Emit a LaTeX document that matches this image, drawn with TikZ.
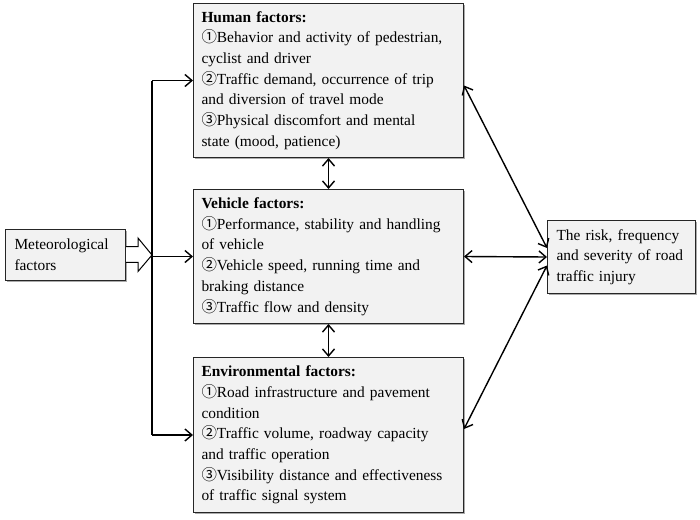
\documentclass[tikz,border=0pt]{standalone}
\usepackage{fontspec}
\setmainfont{Liberation Serif}
\newfontfamily\cjkcirc{Noto Sans CJK SC}
\usetikzlibrary{arrows.meta,shadows}
\newcommand\cnum[1]{\makebox[1em][l]{\cjkcirc #1}}
\definecolor{boxfill}{HTML}{F2F2F2}
\tikzset{
  fbox/.style={draw=black!85, line width=1pt, fill=boxfill, rectangle,
    drop shadow={shadow xshift=1.6pt, shadow yshift=-1.6pt, fill=black!55, opacity=0.6},
    align=left, inner xsep=9pt, inner ysep=0pt,
    font=\fontsize{15.4}{20.7}\selectfont},
  conn/.style={line width=1.4pt, draw=black},
  arr/.style={conn, -{Straight Barb[length=7pt,width=12pt,line width=1.4pt]}},
  darr/.style={conn, {Straight Barb[length=7pt,width=12pt,line width=1.4pt]}-{Straight Barb[length=7pt,width=12pt,line width=1.4pt]}}
}
\begin{document}
\begin{tikzpicture}[x=1pt,y=-1pt]
\useasboundingbox (0,0) rectangle (700,519);

\node[fbox, inner xsep=8pt, minimum width=270pt, minimum height=154pt, text width=254pt, anchor=north west] (human) at (193,3)
 {\textbf{Human factors:}\\
  \cnum{①}Behavior and activity of pedestrian,\\
  cyclist and driver\\
  \cnum{②}Traffic demand, occurrence of trip\\
  and diversion of travel mode\\
  \cnum{③}Physical discomfort and mental\\
  state (mood, patience)};

\node[fbox, inner xsep=8pt, minimum width=270pt, minimum height=134pt, text width=254pt, anchor=north west] (vehicle) at (193,189)
 {\textbf{Vehicle factors:}\\
  \cnum{①}Performance, stability and handling\\
  of vehicle\\
  \cnum{②}Vehicle speed, running time and\\
  braking distance\\
  \cnum{③}Traffic flow and density};

\node[fbox, inner xsep=8pt, minimum width=270pt, minimum height=155pt, text width=254pt, anchor=north west] (env) at (193,357)
 {\textbf{Environmental factors:}\\
  \cnum{①}Road infrastructure and pavement\\
  condition\\
  \cnum{②}Traffic volume, roadway capacity\\
  and traffic operation\\
  \cnum{③}Visibility distance and effectiveness\\
  of traffic signal system};

\node[fbox, minimum width=120pt, minimum height=51pt, text width=102pt, anchor=north west] (met) at (5,229)
 {Meteorological\\factors};

\node[fbox, minimum width=148pt, minimum height=73pt, text width=130pt, anchor=north west] (risk) at (547,220)
 {The risk, frequency\\and severity of road\\traffic injury};

% block arrow
\draw[line width=1pt, fill=white] (met.east |- 0,246.7) -- (138,246.7) -- (138,238) -- (152,255)
  -- (138,271.5) -- (138,262.3) -- (met.east |- 0,262.3);

% spine
\coordinate (spine) at (152,255);
\draw[conn] (human.west -| spine) -- (env.west -| spine);
\draw[arr] (human.west -| spine) -- (human.west);
\draw[arr] (vehicle.west -| spine) -- (vehicle.west);
\draw[arr] (env.west -| spine) -- (env.west);

% vertical double arrows
\draw[darr] (human.south) -- (vehicle.north);
\draw[darr] (vehicle.south) -- (env.north);

% to risk
\draw[darr] ([yshift=-5pt]human.east) -- ([yshift=9pt]risk.west);
\draw[darr] (vehicle.east |- 0,256.5) -- (risk.west);
\draw[darr] ([yshift=6pt]env.east) -- ([yshift=-8.5pt]risk.west);
\end{tikzpicture}
\end{document}
